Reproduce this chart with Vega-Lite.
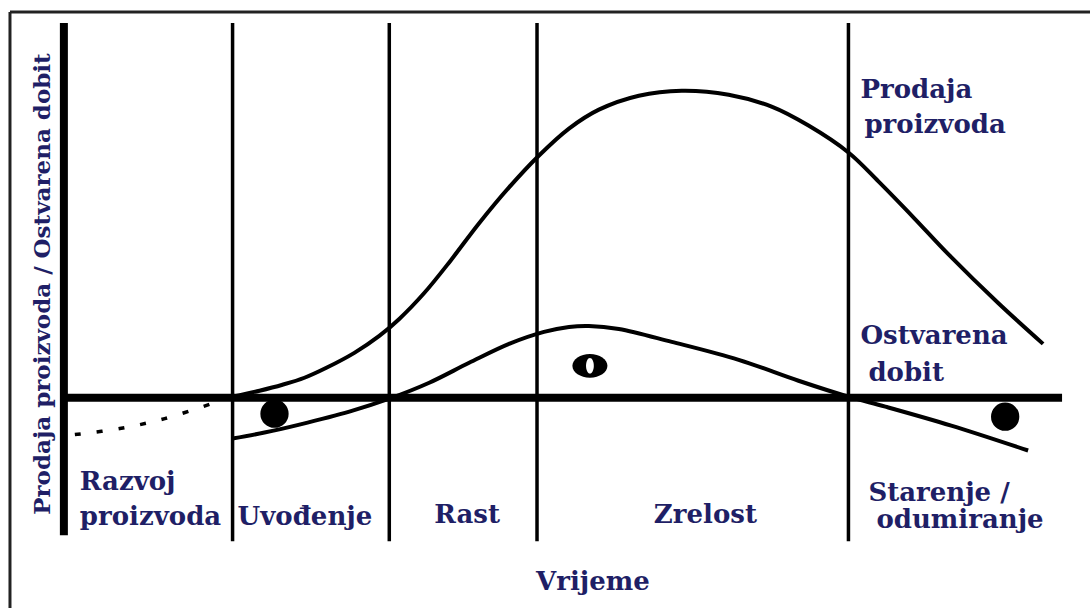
{
  "$schema": "https://vega.github.io/schema/vega-lite/v6.json",
  "width": 1092,
  "height": 610,
  "autosize": {"type": "fit", "contains": "padding"},
  "padding": 0,
  "background": "white",
  "config": {"view": {"stroke": null}},
  "datasets": {
    "frame": [
      {"x": 10, "x2": 1092, "y": 388, "y2": 388},
      {"x": 10, "x2": 10, "y": 388, "y2": -210}
    ],
    "axes": [
      {"x": 64, "x2": 64, "y": 377, "y2": -137},
      {"x": 61, "x2": 1064, "y": 1, "y2": 1}
    ],
    "stages": [
      {"x": 233, "x2": 233, "y": 377, "y2": -143},
      {"x": 390, "x2": 390, "y": 377, "y2": -143},
      {"x": 538, "x2": 538, "y": 377, "y2": -143},
      {"x": 850, "x2": 850, "y": 377, "y2": -143}
    ],
    "curves": [
      {"series": "Prodaja", "t": 233, "v": 2},
      {"series": "Prodaja", "t": 260, "v": 8},
      {"series": "Prodaja", "t": 283, "v": 14},
      {"series": "Prodaja", "t": 305, "v": 21},
      {"series": "Prodaja", "t": 327, "v": 31},
      {"series": "Prodaja", "t": 355, "v": 46},
      {"series": "Prodaja", "t": 380, "v": 63},
      {"series": "Prodaja", "t": 400, "v": 80},
      {"series": "Prodaja", "t": 425, "v": 106},
      {"series": "Prodaja", "t": 451, "v": 138},
      {"series": "Prodaja", "t": 480, "v": 176},
      {"series": "Prodaja", "t": 510, "v": 212},
      {"series": "Prodaja", "t": 540, "v": 244},
      {"series": "Prodaja", "t": 570, "v": 271},
      {"series": "Prodaja", "t": 600, "v": 290},
      {"series": "Prodaja", "t": 640, "v": 304},
      {"series": "Prodaja", "t": 683, "v": 309},
      {"series": "Prodaja", "t": 730, "v": 305},
      {"series": "Prodaja", "t": 773, "v": 293},
      {"series": "Prodaja", "t": 810, "v": 274},
      {"series": "Prodaja", "t": 850, "v": 247},
      {"series": "Prodaja", "t": 880, "v": 218},
      {"series": "Prodaja", "t": 916, "v": 181},
      {"series": "Prodaja", "t": 950, "v": 145},
      {"series": "Prodaja", "t": 1000, "v": 96},
      {"series": "Prodaja", "t": 1045, "v": 55},
      {"series": "Dobit", "t": 233, "v": -40},
      {"series": "Dobit", "t": 265, "v": -34},
      {"series": "Dobit", "t": 300, "v": -26},
      {"series": "Dobit", "t": 350, "v": -13},
      {"series": "Dobit", "t": 390, "v": 0},
      {"series": "Dobit", "t": 430, "v": 16},
      {"series": "Dobit", "t": 470, "v": 36},
      {"series": "Dobit", "t": 510, "v": 55},
      {"series": "Dobit", "t": 545, "v": 67},
      {"series": "Dobit", "t": 570, "v": 72},
      {"series": "Dobit", "t": 590, "v": 73},
      {"series": "Dobit", "t": 620, "v": 70},
      {"series": "Dobit", "t": 673, "v": 57},
      {"series": "Dobit", "t": 740, "v": 39},
      {"series": "Dobit", "t": 800, "v": 18},
      {"series": "Dobit", "t": 850, "v": 2},
      {"series": "Dobit", "t": 887, "v": -8},
      {"series": "Dobit", "t": 953, "v": -27},
      {"series": "Dobit", "t": 1030, "v": -52}
    ],
    "dev": [
      {"t": 75, "v": -36},
      {"t": 120, "v": -30},
      {"t": 165, "v": -20},
      {"t": 212, "v": -5}
    ],
    "loss": [
      {"t": 275, "v": -15},
      {"t": 1007, "v": -18}
    ],
    "gain": [
      {"t": 591, "v": 33}
    ],
    "labels": [
      {"x": 862, "y": 302, "label": "Prodaja"},
      {"x": 866, "y": 267, "label": "proizvoda"},
      {"x": 862, "y": 55, "label": "Ostvarena"},
      {"x": 870, "y": 18, "label": "dobit"},
      {"x": 80, "y": -92, "label": "Razvoj"},
      {"x": 80, "y": -127, "label": "proizvoda"},
      {"x": 238, "y": -127, "label": "Uvođenje"},
      {"x": 435, "y": -125, "label": "Rast"},
      {"x": 655, "y": -125, "label": "Zrelost"},
      {"x": 870, "y": -103, "label": "Starenje /"},
      {"x": 878, "y": -130, "label": "odumiranje"},
      {"x": 537, "y": -192, "label": "Vrijeme"}
    ],
    "ytitle": [
      {"x": 50, "y": 115, "label": "Prodaja proizvoda / Ostvarena dobit"}
    ]
  },
  "layer": [
    {
      "data": {"name": "frame"},
      "mark": {"type": "rule", "color": "#222222", "strokeWidth": 3},
      "encoding": {
        "x": {"field": "x", "type": "quantitative", "scale": {"domain": [0, 1092], "nice": false, "zero": false}, "axis": null},
        "x2": {"field": "x2"},
        "y": {"field": "y", "type": "quantitative", "scale": {"domain": [-210, 400], "nice": false, "zero": false}, "axis": null},
        "y2": {"field": "y2"}
      }
    },
    {
      "data": {"name": "stages"},
      "mark": {"type": "rule", "color": "#000000", "strokeWidth": 3.5},
      "encoding": {
        "x": {"field": "x", "type": "quantitative"},
        "x2": {"field": "x2"},
        "y": {"field": "y", "type": "quantitative"},
        "y2": {"field": "y2"}
      }
    },
    {
      "data": {"name": "axes"},
      "mark": {"type": "rule", "color": "#000000", "strokeWidth": 8},
      "encoding": {
        "x": {"field": "x", "type": "quantitative"},
        "x2": {"field": "x2"},
        "y": {"field": "y", "type": "quantitative"},
        "y2": {"field": "y2"}
      }
    },
    {
      "data": {"name": "curves"},
      "mark": {"type": "line", "color": "#000000", "strokeWidth": 4, "interpolate": "catmull-rom"},
      "encoding": {
        "x": {"field": "t", "type": "quantitative"},
        "y": {"field": "v", "type": "quantitative"},
        "detail": {"field": "series"}
      }
    },
    {
      "data": {"name": "dev"},
      "mark": {"type": "line", "color": "#000000", "strokeWidth": 3.5, "strokeDash": [6, 16], "interpolate": "catmull-rom"},
      "encoding": {
        "x": {"field": "t", "type": "quantitative"},
        "y": {"field": "v", "type": "quantitative"}
      }
    },
    {
      "data": {"name": "loss"},
      "mark": {"type": "point", "shape": "circle", "filled": true, "color": "#000000", "opacity": 1, "size": 800},
      "encoding": {
        "x": {"field": "t", "type": "quantitative"},
        "y": {"field": "v", "type": "quantitative"}
      }
    },
    {
      "data": {"name": "gain"},
      "mark": {"type": "point", "shape": "M-1,0 A1,0.68,0,1,1,1,0 A1,0.68,0,1,1,-1,0 Z", "filled": true, "color": "#000000", "opacity": 1, "size": 1225},
      "encoding": {
        "x": {"field": "t", "type": "quantitative"},
        "y": {"field": "v", "type": "quantitative"}
      }
    },
    {
      "data": {"name": "gain"},
      "mark": {"type": "point", "shape": "M-0.45,0 A0.45,0.9,0,1,1,0.45,0 A0.45,0.9,0,1,1,-0.45,0 Z", "filled": true, "color": "#ffffff", "opacity": 1, "size": 300},
      "encoding": {
        "x": {"field": "t", "type": "quantitative"},
        "y": {"field": "v", "type": "quantitative"}
      }
    },
    {
      "data": {"name": "labels"},
      "mark": {"type": "text", "font": "DejaVu Serif", "fontWeight": "bold", "fontSize": 26, "color": "#1f1f66", "align": "left", "baseline": "alphabetic"},
      "encoding": {
        "x": {"field": "x", "type": "quantitative"},
        "y": {"field": "y", "type": "quantitative"},
        "text": {"field": "label"}
      }
    },
    {
      "data": {"name": "ytitle"},
      "mark": {"type": "text", "font": "DejaVu Serif", "fontWeight": "bold", "fontSize": 23, "color": "#1f1f66", "align": "center", "baseline": "alphabetic", "angle": 270},
      "encoding": {
        "x": {"field": "x", "type": "quantitative"},
        "y": {"field": "y", "type": "quantitative"},
        "text": {"field": "label"}
      }
    }
  ]
}
